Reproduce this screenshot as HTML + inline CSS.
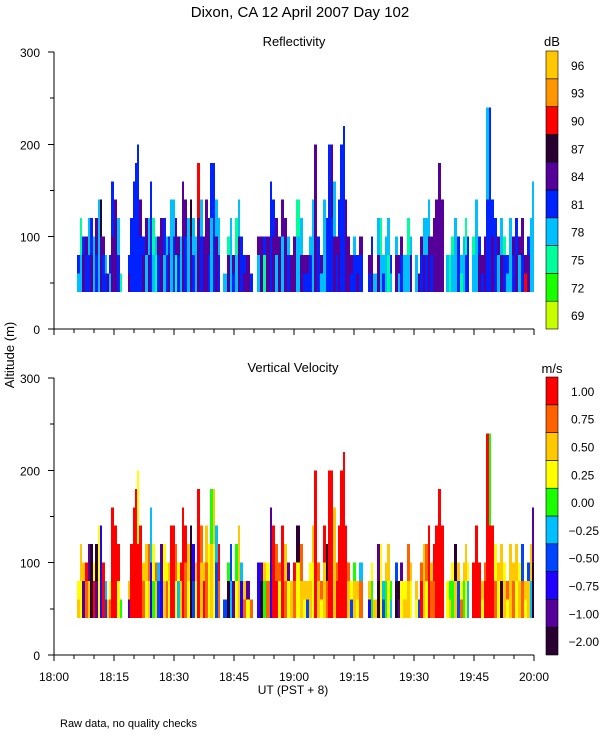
<!DOCTYPE html>
<html><head><meta charset="utf-8"><style>
html,body{margin:0;padding:0;background:#fff;}
svg{display:block;font-family:"Liberation Sans",sans-serif;}
</style></head><body>
<svg id="chart" width="600" height="750" viewBox="0 0 600 750" xmlns="http://www.w3.org/2000/svg">
<text x="300" y="17" font-size="15" text-anchor="middle">Dixon, CA 12 April 2007  Day 102</text>
<text x="294" y="46" font-size="13" text-anchor="middle">Reflectivity</text>
<text x="293" y="372" font-size="13" text-anchor="middle">Vertical Velocity</text>
<text transform="translate(14,355) rotate(-90)" font-size="13" text-anchor="middle">Altitude (m)</text>
<text x="293" y="694" font-size="12" text-anchor="middle">UT  (PST + 8)</text>
<text x="60" y="727" font-size="11">Raw data, no quality checks</text>
<text x="552" y="46" font-size="13" text-anchor="middle">dB</text>
<text x="552" y="373" font-size="13" text-anchor="middle">m/s</text>
<g id="marks"></g>
</svg>
<script>
// column start times (minutes after 18:00 UT)
const times=[5.75,6.5,7,7.75,8.5,9,9.75,10.25,11,11.5,12,12.75,13.25,13.75,14.25,15,15.75,16.5,17,18.5,19,19.75,20.25,20.75,21.25,22,22.75,23.5,24,24.5,25.25,25.75,26.5,27.25,28,28.5,29,29.75,30.25,30.75,31.5,32,32.5,33.25,34,34.5,35.25,35.75,36.5,37.25,37.75,38.5,39,39.75,40.25,41,41.5,42.25,43.25,44,44.5,45.25,46,46.5,47.25,48,49,49.75,50.75,51.5,52.25,53,54,54.5,55.25,56,56.75,57.5,58.25,59,59.75,60.5,61.5,62.25,63,63.75,64.5,65,65.75,66.5,67.25,68,68.5,69.25,69.75,70.5,71,71.5,72.25,72.75,73.25,74,74.75,75.5,76.25,77.25,78.5,79.25,79.75,80.75,81.5,82,82.75,83.25,84,84.5,85.25,86,86.5,87.25,88.25,89,89.5,90.25,91,91.5,92.25,92.75,93.5,94,94.75,95.25,96,96.75,97.5,98,98.75,99.25,100,100.75,101.5,102.25,102.75,103.25,103.75,104.5,105.25,106,106.75,107.5,108,108.75,109.25,110,110.75,111.5,112.25,113,113.75,114.5,115.25,116,116.75,117.5,118.25,119,119.5];
// echo top altitude (m); 0 = no data
const tops=[80,120,100,100,120,120,100,120,140,140,100,80,60,80,160,140,120,60,0,80,120,160,180,200,140,100,120,120,160,120,100,100,120,120,100,100,140,140,120,100,100,160,140,120,140,120,100,180,140,100,140,120,180,180,140,120,0,60,100,120,80,120,140,100,80,80,60,0,100,100,100,100,160,140,120,100,140,120,100,80,100,140,120,80,80,100,140,200,100,80,140,120,200,200,160,100,140,200,220,140,100,80,100,80,100,0,80,100,60,120,120,80,100,120,80,0,100,80,100,80,120,100,0,80,60,100,120,120,140,100,120,140,180,140,0,80,80,100,120,100,80,100,120,100,0,100,140,100,80,100,240,240,140,120,100,120,100,80,120,100,120,100,120,80,100,120,160];
// reflectivity (dB) lower / upper part of each profile
const reflLo=[78,78,84,81,81,84,78,81,78,84,81,81,84,78,84,84,81,75,0,84,81,81,81,81,81,84,78,84,81,78,75,81,84,78,81,84,78,81,75,81,78,84,81,78,84,81,78,84,81,84,84,81,78,81,84,81,0,78,84,78,81,78,84,81,84,84,81,0,78,84,75,84,81,84,78,84,78,84,81,84,84,78,84,81,81,81,78,84,81,78,78,81,81,81,84,81,84,81,81,84,84,81,81,84,81,0,81,84,78,84,78,81,78,75,78,0,84,78,81,78,78,84,0,78,84,81,84,81,84,81,84,84,84,84,0,78,75,78,78,81,75,78,81,81,0,78,78,84,81,84,81,81,84,81,78,84,81,78,78,81,84,78,81,90,84,78,78];
const reflHi=[81,75,81,84,78,81,78,84,78,87,84,78,75,81,81,84,78,75,0,81,81,81,81,81,84,81,84,78,81,75,78,84,84,81,78,81,78,78,84,84,78,84,84,78,87,78,78,90,78,84,84,84,81,81,78,78,0,78,75,78,84,75,78,81,81,84,81,0,84,84,81,84,81,81,84,84,84,84,78,84,84,75,78,84,84,78,78,84,81,84,78,81,81,84,78,84,81,81,81,84,84,84,78,81,84,0,84,81,78,78,75,78,78,78,81,0,78,84,84,78,75,78,0,78,84,84,78,78,78,84,84,84,84,84,0,78,75,75,78,81,78,78,75,81,0,75,78,81,84,84,78,81,81,81,84,78,75,81,78,84,81,84,84,84,81,78,78];
// vertical velocity (m/s) lower / upper part of each profile
const velLo=[0.5,0.25,-1,0.75,0.5,-2,1,-1,0.25,-0.75,1,-0.5,0.5,0.75,1,1,0.25,0,0,-1,1,1,1,1,1,0.75,0.25,0.5,-0.75,0,0.5,-0.5,-0.75,0.5,0.75,0.25,1,1,0.25,-0.25,0.5,1,0.75,0.25,-2,-0.5,0.25,1,0.5,1,0.75,0.25,0.5,0.25,-0.5,0.75,0,-0.5,-2,-0.25,-1,0.25,0.5,-0.75,0.75,0.25,0.75,0,-0.75,-2,0,0.75,-0.75,1,1,0.25,1,0.75,0.25,0.5,0.75,0.25,0.5,0.25,-0.5,0.5,0.25,1,0.5,0.25,0.5,0.75,1,1,0.5,1,1,1,1,1,0.5,-0.5,0.5,0.25,0.75,0,-0.75,0,0.5,-2,0.25,-0.5,0,0.25,-0.25,0,-2,-1,0.25,0.5,0.5,0.25,0,0.25,-0.5,1,0.5,0.25,1,0.75,0.75,1,1,1,0,0.25,0.5,0,0.5,-0.5,0.75,0,0.25,-0.25,0,1,1,1,0.25,1,1,1,1,0.75,0.25,-2,0.5,0.25,0.5,0.75,0.25,0.5,0.75,0.25,0.5,-0.25,-2];
const velHi=[0.25,0.5,0.5,1,-1,-2,0.25,-2,0.25,-0.75,1,-0.25,0.5,0.25,1,1,1,0.25,0,0.5,1,1,1,0.25,1,0.5,0.5,0.75,-0.25,0.25,0.75,-0.25,-1,0.25,0.25,0.5,1,1,0.75,0.25,1,1,1,0.5,-2,-0.75,0.5,1,0.75,0.5,0.5,0.25,0,0.5,-0.25,1,0,-0.5,0,-0.5,-1,0,0.5,-0.25,0.5,-1,0.75,0,-0.75,-1,0.5,0.25,-1,1,0.75,0.75,1,0.5,-1,0.5,1,-2,0.75,0.5,0.5,0.25,0.5,1,0.75,0.75,1,-2,1,1,0.5,0.75,1,1,1,1,0.75,0.25,0,0.5,-0.25,0,0.5,0.25,0.5,-1,0.25,-0.25,0.5,0.5,0,0,-0.5,-2,-1,0.25,0.75,0.5,0,0.5,0.5,0.75,0.5,0.75,1,0.5,1,1,1,1,0,0.25,0,0.25,-2,0.5,0.25,0.5,0.5,0.25,0,1,1,1,0.5,0.75,1,0,1,0.25,0.5,0.5,0.25,0.75,0.5,0.5,0.5,0.25,-0.5,0.5,-0.5,0.5,-1];
const reflLabels=[69,72,75,78,81,84,87,90,93,96];
const reflColors=["#c8ff00","#19ff00","#00ff9a","#00bfff","#0022ff","#550099","#2a0030","#ff0000","#ff9500","#ffc800"];
const velLabels=[-2,-1,-0.75,-0.5,-0.25,0,0.25,0.5,0.75,1];
const velLabelText=["\u22122.00","\u22121.00","\u22120.75","\u22120.50","\u22120.25","0.00","0.25","0.50","0.75","1.00"];
const velColors=["#2a0030","#550099","#2000ff","#0044ff","#00bfff","#19ff00","#ffff00","#ffc800","#ff6000","#ff0000"];
const xTickLabels=["18:00","18:15","18:30","18:45","19:00","19:15","19:30","19:45","20:00"];
const yTicks=[0,100,200,300];

const NS="http://www.w3.org/2000/svg";
const g=document.getElementById('marks');
const X0=54,X1=534;
const xs=m=>X0+(X1-X0)*m/120;
const panels=[{y0:329,y300:52,name:'reflectivity'},{y0:655,y300:378,name:'velocity'}];
function mk(tag,attrs){const e=document.createElementNS(NS,tag);for(const k in attrs)e.setAttribute(k,attrs[k]);g.appendChild(e);return e;}
function nearest(labels,v){let b=0;for(let i=1;i<labels.length;i++)if(Math.abs(labels[i]-v)<Math.abs(labels[b]-v))b=i;return b;}

panels.forEach((p,pi)=>{
  const ys=h=>p.y0+(p.y300-p.y0)*h/300;
  for(let i=0;i<times.length;i++){
    const top=tops[i];if(!top)continue;
    const xa=xs(times[i]),xb=xs(i+1<times.length?times[i+1]:120);
    const mid=40+(top-40)/2;
    for(let h=40;h<top;h+=20){
      const hi=h>=mid;
      let col;
      if(pi===0)col=reflColors[nearest(reflLabels,hi?reflHi[i]:reflLo[i])];
      else col=velColors[nearest(velLabels,hi?velHi[i]:velLo[i])];
      const r=mk('rect',{x:xa,y:ys(h+20),width:xb-xa,height:ys(h)-ys(h+20),fill:col,'shape-rendering':'crispEdges'});
      
      
    }
  }
  // axes
  const ax=mk('path',{d:`M${X0},${ys(300)}V${p.y0}H${X1}`,stroke:'#000',fill:'none','stroke-width':1,'shape-rendering':'crispEdges'});
  
  
  for(let h=0;h<=300;h+=50){
    const t=mk('line',{x1:X0-(h%100===0?6:4),x2:X0,y1:ys(h),y2:ys(h),stroke:'#000','shape-rendering':'crispEdges'});
    
    
  }
  yTicks.forEach(v=>{
    const t=mk('text',{x:X0-14,y:ys(v)+5,'font-size':12,'text-anchor':'end'});
    t.textContent=v;
    
    
  });
  for(let m=0;m<=120;m+=5){
    const t=mk('line',{x1:xs(m),x2:xs(m),y1:p.y0,y2:p.y0+(m%15===0?6:4),stroke:'#000','shape-rendering':'crispEdges'});
    
    
  }
  // colorbar
  const cbTop=p.y300-1,cbBot=p.y0,segH=(cbBot-cbTop)/10;
  const cols=pi===0?reflColors:velColors;
  for(let k=0;k<10;k++){
    const r=mk('rect',{x:546,y:cbBot-(k+1)*segH,width:12,height:segH,fill:cols[k],stroke:'#000','stroke-width':0.6});
    
    
    const txt=pi===0?String(reflLabels[k]):velLabelText[k];
    const neg=txt.startsWith('\u2212');
    const t=mk('text',{x:neg?599:571,y:cbBot-(k+0.5)*segH+5,'font-size':12,'text-anchor':neg?'end':'start'});
    t.textContent=txt;
    
    
  }
});
xTickLabels.forEach((s,i)=>{
  const t=mk('text',{x:xs(i*15),y:681,'font-size':12,'text-anchor':'middle'});
  t.textContent=s;
  
  
});
</script>
</body></html>
